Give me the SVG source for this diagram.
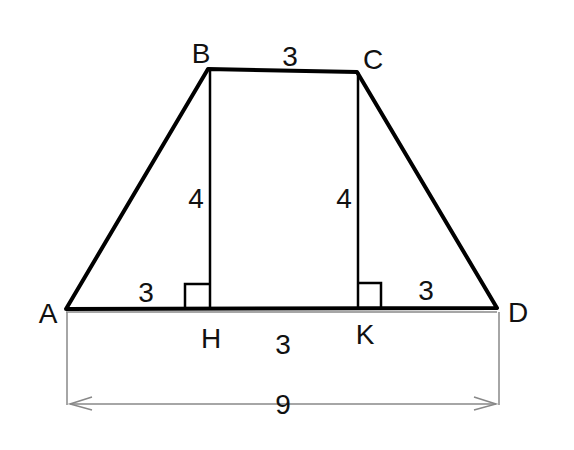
<svg xmlns="http://www.w3.org/2000/svg" width="574" height="450" viewBox="0 0 574 450">
<style>
.t{font-family:"Liberation Sans",Arial,sans-serif;font-size:28px;fill:#111;text-anchor:middle}
.thick{stroke:#000;stroke-width:4;fill:none;stroke-linejoin:round;stroke-linecap:round}
.thin{stroke:#000;stroke-width:2.5;fill:none}
.dim{stroke:#888;stroke-width:1.5;fill:none}
</style>
<rect width="574" height="450" fill="#fff"/>
<g id="connectors">
<polygon class="thick" points="66,309 208,69 357,72 497,308"/>
<line class="dim" x1="66" y1="312" x2="497" y2="312"/>
<line class="thin" x1="210" y1="70" x2="210" y2="309"/>
<line class="thin" x1="358" y1="72" x2="358" y2="308"/>
<polyline class="thin" points="185,308 185,284 210,284"/>
<polyline class="thin" points="358,283 381,283 381,308"/>
<line class="dim" x1="67" y1="312" x2="67" y2="405"/>
<line class="dim" x1="499" y1="312" x2="499" y2="405"/>
<line class="dim" x1="70" y1="404" x2="496" y2="404"/>
<polyline class="dim" points="92,397 70,404 92,410"/>
<polyline class="dim" points="474,397 496,404 474,410"/>
</g>
<g id="A"><text class="t" x="48" y="323">A</text></g>
<g id="B"><text class="t" x="201" y="63">B</text></g>
<g id="C"><text class="t" x="373" y="69">C</text></g>
<g id="D"><text class="t" x="518" y="322">D</text></g>
<g id="H"><text class="t" x="211" y="348">H</text></g>
<g id="K"><text class="t" x="365" y="344">K</text></g>
<g id="labels">
<text class="t" x="290" y="66">3</text>
<text class="t" x="196" y="208">4</text>
<text class="t" x="344" y="208">4</text>
<text class="t" x="146" y="302">3</text>
<text class="t" x="426" y="300">3</text>
<text class="t" x="283" y="354">3</text>
<text class="t" x="283" y="414">9</text>
</g>
</svg>
